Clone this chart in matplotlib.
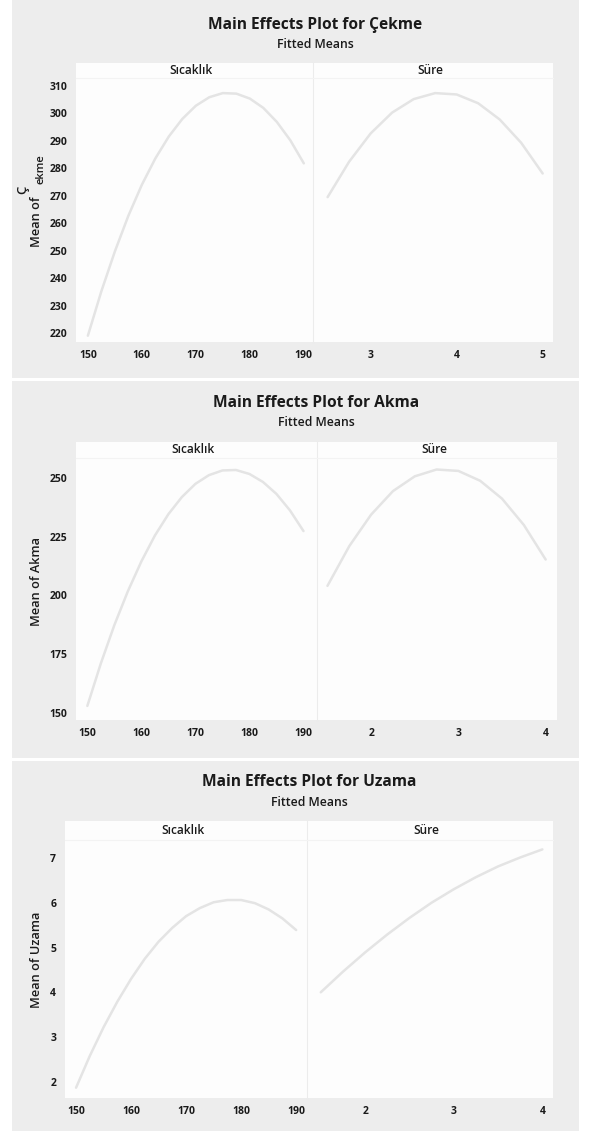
import matplotlib
matplotlib.use("Agg")
import matplotlib.pyplot as plt
from matplotlib.patches import Rectangle

W, H = 592, 1133

# ---------------- data ----------------
sicaklik_x = [150, 152.5, 155, 157.5, 160, 162.5, 165, 167.5, 170, 172.5,
              175, 177.5, 180, 182.5, 185, 187.5, 190]

cekme_sic = [219.0, 235.2, 249.7, 262.7, 274.0, 283.6, 291.6, 298.0, 302.8,
             305.9, 307.4, 307.2, 305.4, 302.0, 296.9, 290.2, 281.8]
cekme_sure_x = [2.5, 2.75, 3.0, 3.25, 3.5, 3.75, 4.0, 4.25, 4.5, 4.75, 5.0]
cekme_sure = [269.5, 282.4, 292.7, 300.3, 305.2, 307.4, 306.9, 303.7, 297.8,
              289.3, 278.1]

akma_sic = [153.0, 171.1, 187.4, 201.8, 214.5, 225.5, 234.6, 241.9, 247.5,
            251.2, 253.2, 253.4, 251.7, 248.3, 243.2, 236.2, 227.4]
akma_sure_x = [1.5, 1.75, 2.0, 2.25, 2.5, 2.75, 3.0, 3.25, 3.5, 3.75, 4.0]
akma_sure = [204.1, 221.0, 234.4, 244.4, 250.7, 253.6, 253.0, 248.8, 241.2,
             230.0, 215.3]

uzama_sic = [1.87, 2.58, 3.22, 3.79, 4.30, 4.75, 5.13, 5.44, 5.70, 5.88,
             6.01, 6.06, 6.06, 5.99, 5.85, 5.65, 5.39]
uzama_sure_x = [1.5, 1.75, 2.0, 2.25, 2.5, 2.75, 3.0, 3.25, 3.5, 3.75, 4.0]
uzama_sure = [4.00, 4.46, 4.89, 5.29, 5.66, 6.00, 6.30, 6.57, 6.81, 7.01, 7.19]

titles = ["Main Effects Plot for Çekme", "Main Effects Plot for Akma",
          "Main Effects Plot for Uzama"]
subtitle = "Fitted Means"
factor_names = ["Sıcaklık", "Süre"]
ylabels = [None, "Mean of Akma", "Mean of Uzama"]

sic_ticks = [150, 160, 170, 180, 190]
cekme_sure_ticks = [3, 4, 5]
akma_sure_ticks = [2, 3, 4]
uzama_sure_ticks = [2, 3, 4]
cekme_yticks = [220, 230, 240, 250, 260, 270, 280, 290, 300, 310]
akma_yticks = [150, 175, 200, 225, 250]
uzama_yticks = [2, 3, 4, 5, 6, 7]

# ---------------- layout (pixels) ----------------
panels = [
    dict(bg=(0, 378), title_y=25, sub_y=45, title_x=315,
         strip=(63, 78), data=(78, 342), xl=(76, 313), xr=(313, 553),
         ylim=(216.7, 312.9), xlim_l=(147.8, 191.7), xlim_r=(2.33, 5.12),
         ylab=(37, 205),
         sic=cekme_sic, sx=cekme_sure_x, sy=cekme_sure,
         st=cekme_sure_ticks, yt=cekme_yticks),
    dict(bg=(381, 758), title_y=403, sub_y=423, title_x=316,
         strip=(442, 458), data=(458, 720), xl=(76, 317), xr=(317, 557),
         ylim=(147.0, 258.5), xlim_l=(147.9, 192.5), xlim_r=(1.38, 4.13),
         ylab=(36, 581),
         sic=akma_sic, sx=akma_sure_x, sy=akma_sure,
         st=akma_sure_ticks, yt=akma_yticks),
    dict(bg=(761, 1131), title_y=782, sub_y=802, title_x=309,
         strip=(821, 840), data=(840, 1098), xl=(64.5, 306.6), xr=(306.6, 553),
         ylim=(1.64, 7.4), xlim_l=(147.9, 191.9), xlim_r=(1.34, 4.12),
         ylab=(36, 960),
         sic=uzama_sic, sx=uzama_sure_x, sy=uzama_sure,
         st=uzama_sure_ticks, yt=uzama_yticks),
]

BG = "#ededed"
LINE = "#e4e4e4"
TXT = "#1a1a1a"
FONT = "Open Sans"

fig = plt.figure(figsize=(W / 100, H / 100), dpi=100)
fig.patch.set_facecolor("white")


def fx(x):
    return x / W


def fy(y):
    return 1 - y / H


def rect(x0, x1, y0, y1):
    return [fx(x0), fy(y1), fx(x1) - fx(x0), fy(y0) - fy(y1)]


for i, p in enumerate(panels):
    fig.patches.append(Rectangle((fx(12), fy(p["bg"][1])), fx(579) - fx(12),
                                 fy(p["bg"][0]) - fy(p["bg"][1]),
                                 transform=fig.transFigure, facecolor=BG,
                                 edgecolor="none", zorder=-3))
    fig.patches.append(Rectangle((fx(p["xl"][0]), fy(p["data"][1])),
                                 fx(p["xr"][1]) - fx(p["xl"][0]),
                                 fy(p["strip"][0]) - fy(p["data"][1]),
                                 transform=fig.transFigure, facecolor="#fdfdfd",
                                 edgecolor="none", zorder=-2))
    fig.text(fx(p["title_x"]), fy(p["title_y"]), titles[i], ha="center",
             va="center", fontsize=11.2, fontweight="bold", family=FONT, color=TXT)
    fig.text(fx(p["title_x"]), fy(p["sub_y"]), subtitle, ha="center",
             va="center", fontsize=8.8, fontweight="semibold", family=FONT, color=TXT)

    y0, y1 = p["data"]
    axl = fig.add_axes(rect(p["xl"][0], p["xl"][1], y0, y1))
    axr = fig.add_axes(rect(p["xr"][0], p["xr"][1], y0, y1), sharey=axl)
    for ax, xs, ys, xlim, xt, name, (sx0, sx1) in [
        (axl, sicaklik_x, p["sic"], p["xlim_l"], sic_ticks, factor_names[0], p["xl"]),
        (axr, p["sx"], p["sy"], p["xlim_r"], p["st"], factor_names[1], p["xr"]),
    ]:
        ax.set_zorder(2)
        ax.set_facecolor("none")
        ax.plot(xs, ys, color=LINE, lw=1.8, solid_capstyle="round")
        ax.set_xlim(*xlim)
        ax.set_ylim(*p["ylim"])
        ax.set_xticks(xt)
        ax.set_xticklabels([str(t) for t in xt])
        for s in ax.spines.values():
            s.set_visible(False)
        ax.tick_params(axis="both", length=0, labelsize=7.5, colors=TXT, pad=6)
        for lab in ax.get_xticklabels():
            lab.set_family(FONT)
            lab.set_fontweight("bold")
        fig.text(fx((sx0 + sx1) / 2 - 3), fy((p["strip"][0] + p["strip"][1]) / 2),
                 name, ha="center", va="center", fontsize=8.6, family=FONT,
                 fontweight="semibold", color=TXT)
    axl.set_yticks(p["yt"])
    axl.set_yticklabels([str(t) for t in p["yt"]])
    for lab in axl.get_yticklabels():
        lab.set_family(FONT)
        lab.set_fontweight("bold")
    axr.tick_params(axis="y", left=False, labelleft=False)
    fig.add_artist(plt.Line2D([fx(p["xl"][1])] * 2, [fy(p["data"][1]), fy(p["strip"][0])],
                              color="#ececec", lw=0.8, transform=fig.transFigure))
    fig.add_artist(plt.Line2D([fx(p["xl"][0]), fx(p["xr"][1])], [fy(p["strip"][1])] * 2,
                              color="#f3f3f3", lw=0.8, transform=fig.transFigure))
    if ylabels[i] is not None:
        fig.text(fx(p["ylab"][0]), fy(p["ylab"][1]), ylabels[i], rotation=90,
                 ha="center", va="center", fontsize=9.2, family=FONT,
                 fontweight="semibold", color=TXT)

# broken-looking y label of the first panel: "Mean of" + raised "Ç" + lowered "ekme"
fig.text(fx(37), fy(222), "Mean of", rotation=90, ha="center", va="center",
         fontsize=9.2, family=FONT, fontweight="semibold", color=TXT)
fig.text(fx(23), fy(190), "Ç", rotation=90, ha="center", va="center",
         fontsize=9.5, family=FONT, fontweight="semibold", color=TXT)
fig.text(fx(41), fy(169), "ekme", rotation=90, ha="center", va="center",
         fontsize=8, family=FONT, fontweight="semibold", color=TXT)

fig.savefig("out.png", dpi=100, facecolor="white")
